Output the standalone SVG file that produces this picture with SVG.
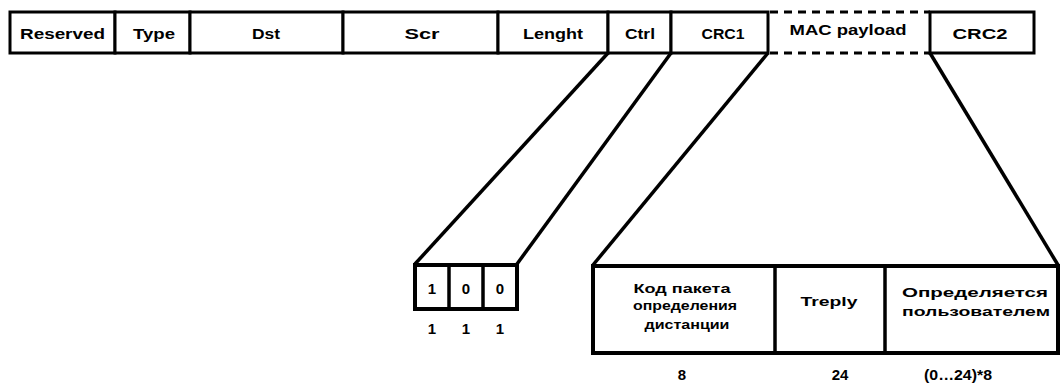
<svg xmlns="http://www.w3.org/2000/svg" width="1061" height="386" viewBox="0 0 1061 386">
<style>
.box{fill:#fff;stroke:#000;stroke-width:3}
.dash{fill:none;stroke:#000;stroke-width:3;stroke-dasharray:8 6}
.ln{fill:none;stroke:#000;stroke-width:3.5}
.t{font-family:"Liberation Sans",Arial,sans-serif;font-weight:bold;font-size:15px;text-anchor:middle;fill:#000}
.b{font-family:"Liberation Sans",Arial,sans-serif;font-weight:bold;font-size:13.5px;text-anchor:middle;fill:#000}
.n{font-family:"Liberation Sans",Arial,sans-serif;font-weight:bold;font-size:15px;text-anchor:middle;fill:#000}
</style>
<rect width="1061" height="386" fill="#fff"/>
<g id="connectors">
<line class="ln" x1="608" y1="53" x2="415" y2="264"/>
<line class="ln" x1="671" y1="53" x2="517" y2="264"/>
<line class="ln" x1="768" y1="53" x2="593" y2="265"/>
<line class="ln" x1="930" y1="53" x2="1058" y2="265"/>
</g>
<g id="frame">
<rect class="box" x="10" y="12" width="105" height="41"/>
<text class="t" x="62.5" y="39" textLength="85" lengthAdjust="spacingAndGlyphs">Reserved</text>
<rect class="box" x="115" y="12" width="75" height="41"/>
<text class="t" x="154" y="39" textLength="42" lengthAdjust="spacingAndGlyphs">Type</text>
<rect class="box" x="190" y="12" width="153" height="41"/>
<text class="t" x="266" y="39" textLength="28" lengthAdjust="spacingAndGlyphs">Dst</text>
<rect class="box" x="343" y="12" width="155" height="41"/>
<text class="t" x="422" y="39" textLength="35" lengthAdjust="spacingAndGlyphs">Scr</text>
<rect class="box" x="498" y="12" width="110" height="41"/>
<text class="t" x="553" y="39" textLength="60" lengthAdjust="spacingAndGlyphs">Lenght</text>
<rect class="box" x="608" y="12" width="63" height="41"/>
<text class="t" x="640" y="39" textLength="30" lengthAdjust="spacingAndGlyphs">Ctrl</text>
<rect class="box" x="671" y="12" width="97" height="41"/>
<text class="t" x="723" y="39" textLength="43" lengthAdjust="spacingAndGlyphs">CRC1</text>
<line class="dash" x1="770" y1="12" x2="930" y2="12"/>
<line class="dash" x1="770" y1="53" x2="930" y2="53"/>
<text class="t" x="848" y="35" textLength="117" lengthAdjust="spacingAndGlyphs">MAC payload</text>
<rect class="box" x="930" y="12" width="104" height="41"/>
<text class="t" x="980" y="39" textLength="55" lengthAdjust="spacingAndGlyphs">CRC2</text>
</g>
<g id="ctrl-bits">
<rect class="box" x="415" y="265" width="102" height="44" style="stroke-width:4"/>
<line class="ln" x1="449" y1="265" x2="449" y2="309"/>
<line class="ln" x1="483" y1="265" x2="483" y2="309"/>
<text class="n" x="432" y="294">1</text>
<text class="n" x="466" y="294">0</text>
<text class="n" x="500" y="294">0</text>
<text class="n" x="432" y="334">1</text>
<text class="n" x="466" y="334">1</text>
<text class="n" x="500" y="334">1</text>
</g>
<g id="payload">
<rect class="box" x="593" y="266" width="465" height="87" style="stroke-width:4"/>
<line class="ln" x1="775" y1="266" x2="775" y2="353"/>
<line class="ln" x1="885" y1="266" x2="885" y2="353"/>
<text class="b" x="682" y="293" textLength="97" lengthAdjust="spacingAndGlyphs">Код пакета</text>
<text class="b" x="685" y="310" textLength="104" lengthAdjust="spacingAndGlyphs">определения</text>
<text class="b" x="687" y="329" textLength="85" lengthAdjust="spacingAndGlyphs">дистанции</text>
<text class="b" x="829" y="306" textLength="57" lengthAdjust="spacingAndGlyphs">Treply</text>
<text class="b" x="975" y="297" textLength="146" lengthAdjust="spacingAndGlyphs">Определяется</text>
<text class="b" x="976" y="316" textLength="148" lengthAdjust="spacingAndGlyphs">пользователем</text>
<text class="n" x="682" y="380">8</text>
<text class="n" x="840" y="380">24</text>
<text class="n" x="958" y="380" textLength="68" lengthAdjust="spacingAndGlyphs">(0…24)*8</text>
</g>
</svg>
